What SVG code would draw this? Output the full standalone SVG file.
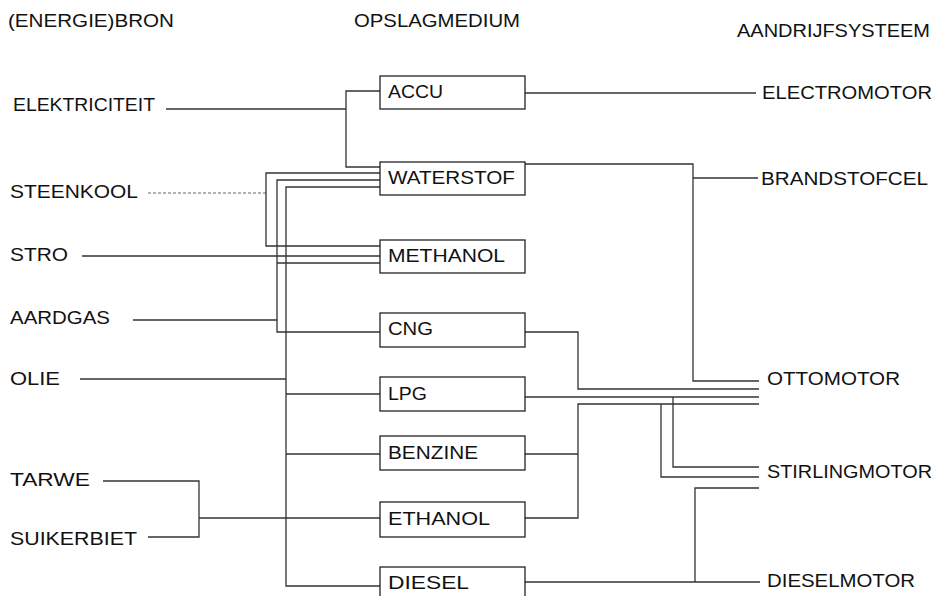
<svg xmlns="http://www.w3.org/2000/svg" width="937" height="596" viewBox="0 0 937 596">
<style>
text{font-family:"Liberation Sans",Arial,sans-serif;font-size:18px;fill:#111}
.box{fill:#fff;stroke:#222;stroke-width:1.3}
#connectors line,#connectors polyline{fill:none;stroke:#333;stroke-width:1.3}
#connectors .faint{stroke:#999;stroke-dasharray:3 2}
</style>
<rect width="937" height="596" fill="#fff"/>
<g id="headers">
<text x="8" y="27" textLength="166" lengthAdjust="spacingAndGlyphs">(ENERGIE)BRON</text>
<text x="354" y="27" textLength="166" lengthAdjust="spacingAndGlyphs">OPSLAGMEDIUM</text>
<text x="737" y="37" textLength="193" lengthAdjust="spacingAndGlyphs">AANDRIJFSYSTEEM</text>
</g>
<g id="connectors">
<line x1="166" y1="109" x2="346" y2="109"/>
<polyline points="380,91 346,91 346,167 380,167"/>
<line class="faint" x1="148" y1="193" x2="266" y2="193"/>
<polyline points="380,173 266,173 266,246 380,246"/>
<polyline points="380,180 277,180 277,332 380,332"/>
<line x1="277" y1="263" x2="380" y2="263"/>
<line x1="82" y1="256" x2="380" y2="256"/>
<line x1="133" y1="320" x2="277" y2="320"/>
<polyline points="380,187 286,187 286,586 380,586"/>
<line x1="80" y1="379" x2="286" y2="379"/>
<line x1="286" y1="394" x2="380" y2="394"/>
<line x1="286" y1="454" x2="380" y2="454"/>
<polyline points="103,481 199,481 199,537 148,537"/>
<line x1="199" y1="518" x2="380" y2="518"/>
<line x1="525" y1="93" x2="756" y2="93"/>
<polyline points="525,164 693,164 693,381 759,381"/>
<line x1="693" y1="178" x2="758" y2="178"/>
<polyline points="525,332 578,332 578,389 759,389"/>
<line x1="525" y1="397" x2="759" y2="397"/>
<polyline points="759,404 578,404 578,518 525,518"/>
<line x1="525" y1="454" x2="578" y2="454"/>
<polyline points="661,404 661,477 759,477"/>
<polyline points="673,397 673,467 759,467"/>
<line x1="525" y1="582" x2="760" y2="582"/>
<polyline points="695,582 695,488 759,488"/>
</g>
<g id="src-elektriciteit"><text x="13" y="111" textLength="142" lengthAdjust="spacingAndGlyphs">ELEKTRICITEIT</text></g>
<g id="src-steenkool"><text x="10" y="198" textLength="128" lengthAdjust="spacingAndGlyphs">STEENKOOL</text></g>
<g id="src-stro"><text x="10" y="261" textLength="58" lengthAdjust="spacingAndGlyphs">STRO</text></g>
<g id="src-aardgas"><text x="10" y="324" textLength="100" lengthAdjust="spacingAndGlyphs">AARDGAS</text></g>
<g id="src-olie"><text x="10" y="385" textLength="50" lengthAdjust="spacingAndGlyphs">OLIE</text></g>
<g id="src-tarwe"><text x="10" y="486" textLength="80" lengthAdjust="spacingAndGlyphs">TARWE</text></g>
<g id="src-suikerbiet"><text x="10" y="545" textLength="127" lengthAdjust="spacingAndGlyphs">SUIKERBIET</text></g>
<g id="accu"><rect class="box" x="380" y="76" width="145" height="33"/><text x="388" y="98" textLength="55" lengthAdjust="spacingAndGlyphs">ACCU</text></g>
<g id="waterstof"><rect class="box" x="380" y="162" width="145" height="33"/><text x="388" y="184" textLength="127" lengthAdjust="spacingAndGlyphs">WATERSTOF</text></g>
<g id="methanol"><rect class="box" x="380" y="240" width="145" height="33"/><text x="388" y="262" textLength="117" lengthAdjust="spacingAndGlyphs">METHANOL</text></g>
<g id="cng"><rect class="box" x="380" y="313" width="145" height="34"/><text x="388" y="335" textLength="45" lengthAdjust="spacingAndGlyphs">CNG</text></g>
<g id="lpg"><rect class="box" x="380" y="377" width="145" height="34"/><text x="388" y="400" textLength="39" lengthAdjust="spacingAndGlyphs">LPG</text></g>
<g id="benzine"><rect class="box" x="380" y="436" width="145" height="34"/><text x="388" y="459" textLength="90" lengthAdjust="spacingAndGlyphs">BENZINE</text></g>
<g id="ethanol"><rect class="box" x="380" y="502" width="145" height="35"/><text x="388" y="525" textLength="102" lengthAdjust="spacingAndGlyphs">ETHANOL</text></g>
<g id="diesel"><rect class="box" x="380" y="567" width="145" height="36"/><text x="388" y="589" textLength="81" lengthAdjust="spacingAndGlyphs">DIESEL</text></g>
<g id="electromotor"><text x="762" y="99" textLength="170" lengthAdjust="spacingAndGlyphs">ELECTROMOTOR</text></g>
<g id="brandstofcel"><text x="761" y="185" textLength="167" lengthAdjust="spacingAndGlyphs">BRANDSTOFCEL</text></g>
<g id="ottomotor"><text x="767" y="385" textLength="133" lengthAdjust="spacingAndGlyphs">OTTOMOTOR</text></g>
<g id="stirlingmotor"><text x="767" y="478" textLength="165" lengthAdjust="spacingAndGlyphs">STIRLINGMOTOR</text></g>
<g id="dieselmotor"><text x="767" y="587" textLength="148" lengthAdjust="spacingAndGlyphs">DIESELMOTOR</text></g>
</svg>
